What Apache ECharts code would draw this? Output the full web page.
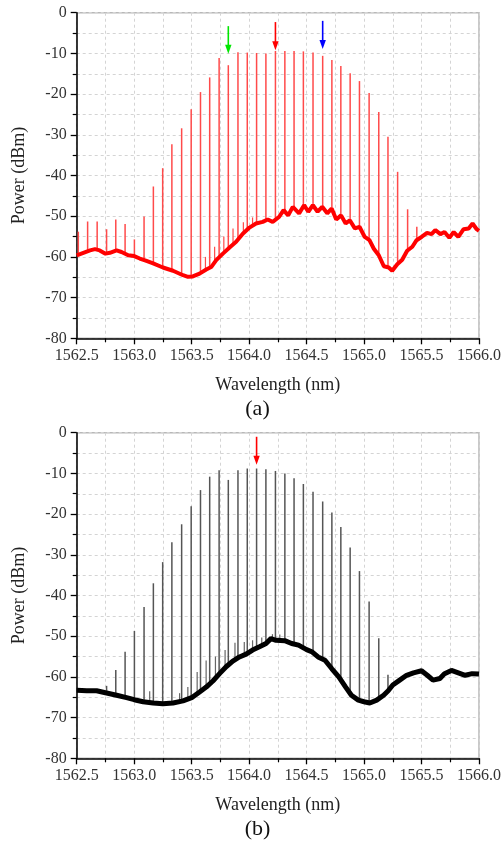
<!DOCTYPE html>
<html><head><meta charset="utf-8">
<script src="https://cdn.jsdelivr.net/npm/echarts@6/dist/echarts.min.js"></script>
<style>html,body{margin:0;padding:0;background:#fff}#c{width:504px;height:848px}</style>
</head><body><div id="c"></div>
<script>
// ---------- (a) ----------
const floorA_nm = [1562.50,1562.558,1562.616,1562.659,1562.70,1562.75,1562.789,1562.847,1562.89,1562.948,1563.00,1563.049,1563.107,1563.165,1563.25,1563.338,1563.425,1563.468,1563.51,1563.569,1563.627,1563.67,1563.714,1563.772,1563.83,1563.887,1563.945,1564.003,1564.06,1564.118,1564.162,1564.205,1564.26,1564.30,1564.34,1564.38,1564.435,1564.478,1564.515,1564.555,1564.596,1564.636,1564.68,1564.718,1564.758,1564.80,1564.84,1564.876,1564.92,1564.96,1565.006,1565.047,1565.085,1565.128,1565.172,1565.215,1565.245,1565.289,1565.332,1565.375,1565.42,1565.457,1565.50,1565.548,1565.587,1565.62,1565.664,1565.70,1565.742,1565.78,1565.82,1565.866,1565.91,1565.944,1565.98,1566.0];
const floorA_dBm = [-59.6,-59.0,-58.4,-58.1,-58.4,-59.2,-59.0,-58.4,-58.8,-59.6,-59.8,-60.4,-61.0,-61.6,-62.6,-63.4,-64.5,-64.9,-64.8,-64.1,-63.1,-62.5,-60.8,-59.2,-57.7,-56.3,-54.3,-52.8,-51.8,-51.4,-50.8,-51.4,-50.2,-48.5,-49.8,-47.7,-49.3,-47.3,-48.9,-47.3,-48.9,-47.7,-49.3,-48.1,-50.8,-49.8,-51.8,-51.0,-53.0,-52.6,-55.1,-55.9,-58.0,-59.6,-62.3,-62.6,-63.4,-61.8,-60.7,-58.5,-57.5,-55.9,-55.1,-54.1,-54.4,-53.4,-54.4,-53.9,-55.3,-53.9,-55.1,-53.2,-53.0,-51.8,-53.2,-53.6];
const combA_nm = [1562.514,1562.595,1562.678,1562.760,1562.840,1562.921,1563.002,1563.086,1563.167,1563.248,1563.328,1563.413,1563.496,1563.577,1563.657,1563.739,1563.819,1563.903,1563.984,1564.065,1564.146,1564.229,1564.311,1564.391,1564.472,1564.556,1564.640,1564.720,1564.798,1564.879,1564.960,1565.044,1565.128,1565.208,1565.292,1565.379,1565.459];
const combA_dBm = [-53.8,-51.3,-51.3,-53.2,-50.8,-51.9,-55.7,-50.1,-42.7,-38.2,-32.3,-28.4,-23.7,-19.5,-15.9,-11.1,-12.9,-9.7,-9.8,-9.9,-10.0,-9.4,-9.4,-9.4,-9.5,-9.8,-10.6,-11.6,-13.1,-14.9,-16.8,-19.7,-24.4,-30.5,-39.1,-48.3,-52.6];
const sideA_nm = [1563.62,1563.70,1563.78,1563.86,1563.95,1564.03];
const sideA_dBm = [-60.0,-57.5,-55.0,-53.0,-51.5,-50.3];
const arrowA_nm = [1563.819,1564.229,1564.640];
const arrowA_from = [-3.3,-2.3,-2.0];
const arrowA_to = [-10.1,-9.2,-8.9];

// ---------- (b) ----------
const floorB_nm = [1562.5,1562.587,1562.673,1562.75,1562.847,1562.934,1563.0,1563.078,1563.165,1563.25,1563.338,1563.425,1563.5,1563.569,1563.627,1563.685,1563.743,1563.80,1563.858,1563.916,1563.974,1564.03,1564.09,1564.147,1564.19,1564.234,1564.31,1564.37,1564.43,1564.5,1564.55,1564.6,1564.66,1564.72,1564.78,1564.84,1564.89,1564.95,1565.0,1565.05,1565.11,1565.17,1565.21,1565.25,1565.31,1565.37,1565.43,1565.5,1565.55,1565.6,1565.66,1565.7,1565.76,1565.82,1565.88,1565.94,1566.0];
const floorB_dBm = [-63.3,-63.4,-63.4,-63.9,-64.5,-65.1,-65.6,-66.1,-66.4,-66.6,-66.4,-65.9,-65.1,-63.7,-62.5,-61.0,-59.2,-57.5,-56.1,-55.1,-54.4,-53.4,-52.6,-51.8,-50.6,-51.0,-51.1,-51.8,-52.2,-53.3,-53.9,-55.1,-55.9,-58.0,-60.0,-62.5,-64.5,-65.7,-66.1,-66.4,-65.7,-64.5,-63.4,-62.0,-60.8,-59.6,-59.0,-58.5,-59.6,-60.8,-60.4,-59.2,-58.4,-59.0,-59.6,-59.2,-59.3];
const combB_nm = [1562.760,1562.840,1562.921,1563.002,1563.086,1563.167,1563.248,1563.328,1563.413,1563.496,1563.577,1563.657,1563.739,1563.819,1563.903,1563.984,1564.065,1564.146,1564.229,1564.311,1564.391,1564.472,1564.556,1564.640,1564.720,1564.798,1564.879,1564.960,1565.044,1565.128,1565.208];
const combB_dBm = [-62.2,-58.3,-53.8,-48.7,-42.8,-37.0,-31.8,-26.9,-22.5,-18.1,-14.1,-10.8,-9.2,-11.6,-9.2,-8.8,-8.8,-9.0,-9.4,-10.0,-11.2,-12.6,-14.5,-16.9,-19.6,-23.2,-28.2,-34.0,-41.5,-50.5,-59.5];
const sideB_nm = [1563.135,1563.395,1563.467,1563.548,1563.626,1563.707,1563.791,1563.877,1563.958,1564.03,1564.11,1564.203,1564.267];
const sideB_dBm = [-63.5,-64.0,-62.5,-58.8,-56.0,-55.0,-53.4,-51.6,-51.4,-51.0,-50.3,-49.5,-49.6];
const arrowB_nm = [1564.065];
const arrowB_from = [-1.0];
const arrowB_to = [-7.9];

// ---------- helpers ----------
function interp(xs, ys, x) {
  if (x <= xs[0]) return ys[0];
  for (let i = 1; i < xs.length; i++) {
    if (x <= xs[i]) { const t = (x - xs[i-1]) / (xs[i] - xs[i-1]); return ys[i-1] + t * (ys[i] - ys[i-1]); }
  }
  return ys[ys.length - 1];
}
function spikes(nm, db, fnm, fdb) { return nm.map((x, i) => [x, db[i], interp(fnm, fdb, x)]); }
function zipXY(a, b) { return a.map((x, i) => [x, b[i]]); }
function lineRender(color, width) {
  return function (params, api) {
    const x = api.value(0);
    const p1 = api.coord([x, api.value(2)]);
    const p2 = api.coord([x, api.value(1)]);
    return { type: 'line', shape: { x1: p1[0], y1: p1[1], x2: p2[0], y2: p2[1] }, style: { stroke: color, lineWidth: width } };
  };
}
function arrowRender(colors) {
  return function (params, api) {
    const x = api.value(0);
    const a = api.coord([x, api.value(1)]);
    const b = api.coord([x, api.value(2)]);
    const c = colors[params.dataIndex];
    return { type: 'group', children: [
      { type: 'line', shape: { x1: a[0], y1: a[1], x2: b[0], y2: b[1] - 7 }, style: { stroke: c, lineWidth: 1.6 } },
      { type: 'polygon', shape: { points: [[b[0] - 3.2, b[1] - 9], [b[0] + 3.2, b[1] - 9], [b[0], b[1]]] }, style: { fill: c } }
    ] };
  };
}

const FONT = '"Liberation Serif", "Times New Roman", serif';
const gridLine = { show: true, lineStyle: { color: '#d4d4d4', type: [3, 3], width: 1 } };
function xAxisOf(gi) {
  return {
    gridIndex: gi, type: 'value', min: 1562.5, max: 1566.0, interval: 0.5,
    axisLine: { show: true, onZero: false, lineStyle: { color: '#000', width: 1.5 } },
    axisTick: { show: true, length: 6, lineStyle: { color: '#000', width: 1.3 } },
    minorTick: { show: true, splitNumber: 2, length: 4, lineStyle: { color: '#000', width: 1.2 } },
    splitLine: gridLine, minorSplitLine: gridLine,
    axisLabel: { fontFamily: FONT, fontSize: 16, color: '#333', margin: 9, formatter: v => v.toFixed(1) },
    name: 'Wavelength (nm)', nameLocation: 'middle', nameGap: 38,
    nameTextStyle: { fontFamily: FONT, fontSize: 18, color: '#222' }
  };
}
function yAxisOf(gi) {
  return {
    gridIndex: gi, type: 'value', min: -80, max: 0, interval: 10,
    axisLine: { show: true, onZero: false, lineStyle: { color: '#000', width: 1.5 } },
    axisTick: { show: true, length: 6, lineStyle: { color: '#000', width: 1.3 } },
    minorTick: { show: true, splitNumber: 2, length: 4, lineStyle: { color: '#000', width: 1.2 } },
    splitLine: gridLine, minorSplitLine: gridLine,
    axisLabel: { fontFamily: FONT, fontSize: 16, color: '#333', margin: 10 },
    name: 'Power (dBm)', nameLocation: 'middle', nameGap: 48,
    nameTextStyle: { fontFamily: FONT, fontSize: 18, color: '#222' }
  };
}

const chart = echarts.init(document.getElementById('c'), null, { renderer: 'canvas' });
chart.setOption({
  animation: false,
  backgroundColor: '#fff',
  grid: [
    { left: 76.7, top: 12.7, width: 404, height: 325.6, show: true, borderColor: '#b8b8b8', borderWidth: 1.5 },
    { left: 76.7, top: 432.7, width: 404, height: 325.6, show: true, borderColor: '#b8b8b8', borderWidth: 1.5 }
  ],
  xAxis: [xAxisOf(0), xAxisOf(1)],
  yAxis: [yAxisOf(0), yAxisOf(1)],
  graphic: [
    { type: 'text', x: 257.5, y: 409, style: { text: '(a)', fontFamily: FONT, fontSize: 22, fill: '#111', align: 'center', verticalAlign: 'middle' } },
    { type: 'text', x: 257.5, y: 829, style: { text: '(b)', fontFamily: FONT, fontSize: 22, fill: '#111', align: 'center', verticalAlign: 'middle' } }
  ],
  series: [
    { type: 'custom', xAxisIndex: 0, yAxisIndex: 0, z: 3, renderItem: lineRender('#ff4a4a', 1.5), encode: { x: 0, y: 1 },
      data: spikes(combA_nm, combA_dBm, floorA_nm, floorA_dBm) },
    { type: 'custom', xAxisIndex: 0, yAxisIndex: 0, z: 3, renderItem: lineRender('#ff4a4a', 1.2), encode: { x: 0, y: 1 },
      data: spikes(sideA_nm, sideA_dBm, floorA_nm, floorA_dBm) },
    { type: 'line', xAxisIndex: 0, yAxisIndex: 0, z: 4, showSymbol: false, symbol: 'none',
      lineStyle: { color: '#ff0000', width: 4 }, data: zipXY(floorA_nm, floorA_dBm) },
    { type: 'custom', xAxisIndex: 0, yAxisIndex: 0, z: 5, renderItem: arrowRender(['#00e600', '#ff0000', '#0000ff']), encode: { x: 0, y: 1 },
      data: arrowA_nm.map((x, i) => [x, arrowA_from[i], arrowA_to[i]]) },

    { type: 'custom', xAxisIndex: 1, yAxisIndex: 1, z: 3, renderItem: lineRender('#555555', 1.5), encode: { x: 0, y: 1 },
      data: spikes(combB_nm, combB_dBm, floorB_nm, floorB_dBm) },
    { type: 'custom', xAxisIndex: 1, yAxisIndex: 1, z: 3, renderItem: lineRender('#666666', 1.2), encode: { x: 0, y: 1 },
      data: spikes(sideB_nm, sideB_dBm, floorB_nm, floorB_dBm) },
    { type: 'line', xAxisIndex: 1, yAxisIndex: 1, z: 4, showSymbol: false, symbol: 'none',
      lineStyle: { color: '#000000', width: 5 }, data: zipXY(floorB_nm, floorB_dBm) },
    { type: 'custom', xAxisIndex: 1, yAxisIndex: 1, z: 5, renderItem: arrowRender(['#ff0000']), encode: { x: 0, y: 1 },
      data: arrowB_nm.map((x, i) => [x, arrowB_from[i], arrowB_to[i]]) }
  ]
});
</script>
</body></html>
